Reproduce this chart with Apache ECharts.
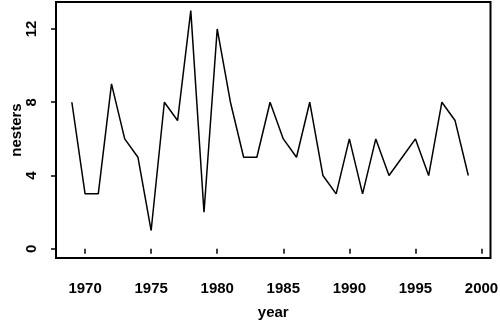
<!DOCTYPE html>
<html>
<head>
<meta charset="utf-8">
<script src="https://cdn.jsdelivr.net/npm/echarts@6/dist/echarts.min.js"></script>
<style>
html,body{margin:0;padding:0;background:#fff;}
#c{width:500px;height:326px;}
</style>
</head>
<body>
<div id="c"></div>
<script>
const years = [1969,1970,1971,1972,1973,1974,1975,1976,1977,1978,1979,1980,1981,1982,1983,1984,1985,1986,1987,1988,1989,1990,1991,1992,1993,1994,1995,1996,1997,1998,1999];
const nesters = [8,3,3,9,6,5,1,8,7,13,2,12,8,5,5,8,6,5,8,4,3,6,3,6,4,5,6,4,8,7,4];
const xTicks = [1970,1975,1980,1985,1990,1995,2000];
const yTicks = [0,4,8,12];

const font = {fontFamily:'Liberation Sans, Arial, Helvetica, sans-serif', fontSize:15, color:'#000', fontWeight:'bold'};
const chart = echarts.init(document.getElementById('c'), null, {renderer:'canvas'});
chart.setOption({
  animation:false,
  backgroundColor:'#fff',
  grid:{left:56,right:9.5,top:2,bottom:68,show:true,borderColor:'#000',borderWidth:2,backgroundColor:'transparent',containLabel:false,outerBoundsMode:'none'},
  xAxis:{
    type:'value', min:1967.8, max:2000.68,
    name:'year', nameLocation:'middle', nameGap:47, nameMoveOverlap:false,
    nameTextStyle:font,
    axisLine:{show:false},
    splitLine:{show:false},
    axisTick:{show:true, length:5, lineStyle:{color:'#000',width:1.5}, customValues:xTicks},
    axisLabel:{...font, margin:23, customValues:xTicks, formatter:v=>String(v), hideOverlap:false}
  },
  yAxis:{
    type:'value', min:-0.5, max:13.47,
    name:'nesters', nameLocation:'middle', nameGap:32, nameRotate:90, nameMoveOverlap:false,
    nameTextStyle:font,
    axisLine:{show:false},
    splitLine:{show:false},
    axisTick:{show:true, length:5, lineStyle:{color:'#000',width:1.5}, customValues:yTicks},
    axisLabel:{...font, margin:17, rotate:90, customValues:yTicks, formatter:v=>String(v)}
  },
  series:[{
    type:'line',
    data:years.map((y,i)=>[y,nesters[i]]),
    showSymbol:false,
    symbol:'none',
    lineStyle:{color:'#000',width:1.5},
    itemStyle:{color:'#000'}
  }]
});
</script>
</body>
</html>
